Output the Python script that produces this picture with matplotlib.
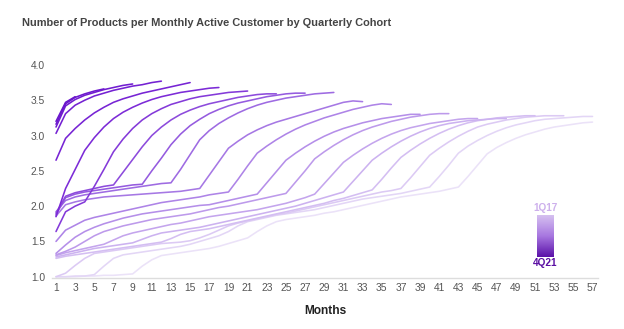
import numpy as np
import matplotlib
matplotlib.use('Agg')
import matplotlib.pyplot as plt
from matplotlib.colors import LinearSegmentedColormap

plt.rcParams['font.family'] = ['Liberation Sans', 'DejaVu Sans']

# products per monthly active customer, one list per quarterly cohort (month 1, 2, ...)
cohort_labels = ['1Q17', '2Q17', '3Q17', '4Q17', '1Q18', '2Q18', '3Q18', '4Q18', '1Q19', '2Q19',
                 '3Q19', '4Q19', '1Q20', '2Q20', '3Q20', '4Q20', '1Q21', '2Q21', '3Q21', '4Q21']

c_1q17 = [1.00, 1.00, 1.00, 1.01, 1.01, 1.02, 1.02, 1.03, 1.04,
          1.15, 1.24, 1.30,
          1.32, 1.34, 1.36, 1.38, 1.40, 1.43, 1.47, 1.51, 1.55,
          1.64, 1.72, 1.78,
          1.81, 1.83, 1.85, 1.87, 1.90, 1.92,
          1.95, 1.98, 2.01, 2.04, 2.07, 2.10, 2.13,
          2.15, 2.17, 2.19, 2.21, 2.24, 2.27,
          2.42, 2.58, 2.74,
          2.83, 2.90, 2.96, 3.01, 3.05, 3.09, 3.12, 3.14, 3.16, 3.18, 3.19]
c_2q17 = [1.00, 1.00, 1.01, 1.01, 1.03, 1.15, 1.26, 1.31,
          1.33, 1.35, 1.37, 1.39, 1.41, 1.43, 1.46, 1.50, 1.54,
          1.58, 1.64, 1.72, 1.78,
          1.81, 1.84, 1.87, 1.89, 1.91, 1.93, 1.95, 1.98, 2.01,
          2.04, 2.07, 2.10, 2.12, 2.14, 2.16, 2.18, 2.21, 2.24, 2.27,
          2.42, 2.58, 2.75,
          2.85, 2.93, 3.00, 3.06, 3.11, 3.15, 3.18, 3.21, 3.23, 3.24, 3.25, 3.26, 3.27, 3.27]
c_3q17 = [1.00, 1.05, 1.16, 1.26, 1.33,
          1.35, 1.37, 1.39, 1.41, 1.43, 1.45, 1.47, 1.48, 1.49, 1.51,
          1.55, 1.60, 1.66, 1.72, 1.76,
          1.79, 1.82, 1.85, 1.88, 1.90,
          1.93, 1.96, 1.99, 2.02, 2.05,
          2.08, 2.11, 2.14, 2.17, 2.20, 2.22, 2.25,
          2.40, 2.56, 2.72,
          2.82, 2.91, 2.99, 3.06, 3.12, 3.16, 3.19, 3.22, 3.24, 3.26, 3.27, 3.28, 3.28, 3.28]
c_4q17 = [1.26, 1.29, 1.31, 1.33, 1.35, 1.37, 1.39, 1.41, 1.43, 1.45, 1.47, 1.49,
          1.54, 1.60, 1.64, 1.66, 1.68,
          1.71, 1.74, 1.77, 1.80, 1.83, 1.86, 1.89, 1.92, 1.95, 1.98, 2.01, 2.04, 2.08, 2.11, 2.15, 2.19, 2.23,
          2.38, 2.54, 2.69,
          2.79, 2.88, 2.96, 3.03, 3.09, 3.14, 3.18, 3.21, 3.23, 3.25, 3.26, 3.27, 3.28, 3.28]
c_1q18 = [1.28, 1.31, 1.34, 1.37, 1.40, 1.42, 1.44, 1.46, 1.48,
          1.53, 1.58, 1.62, 1.64, 1.66, 1.68, 1.70, 1.73,
          1.76, 1.79, 1.82, 1.85, 1.88, 1.91, 1.94, 1.97, 2.00, 2.04, 2.08, 2.12, 2.16, 2.20,
          2.35, 2.50, 2.65,
          2.75, 2.84, 2.92, 2.99, 3.05, 3.10, 3.14, 3.17, 3.19, 3.21, 3.22, 3.23, 3.24, 3.24]
c_2q18 = [1.30, 1.34, 1.37, 1.40, 1.43, 1.46, 1.52, 1.58, 1.62,
          1.65, 1.68, 1.71, 1.74, 1.76, 1.79, 1.82, 1.85,
          1.87, 1.89, 1.91, 1.93, 1.95, 1.98, 2.01, 2.04, 2.08, 2.12, 2.17,
          2.32, 2.47, 2.62,
          2.72, 2.81, 2.89, 2.96, 3.02, 3.07, 3.11, 3.14, 3.17, 3.19, 3.21, 3.23, 3.24, 3.24]
c_3q18 = [1.31, 1.36, 1.42, 1.50, 1.58, 1.64,
          1.68, 1.72, 1.75, 1.78, 1.81, 1.83, 1.85, 1.87, 1.89, 1.92, 1.95,
          1.98, 2.00, 2.03, 2.06, 2.09, 2.12, 2.15, 2.18,
          2.34, 2.50, 2.67,
          2.77, 2.86, 2.94, 3.01, 3.07, 3.12, 3.16, 3.20, 3.23, 3.26, 3.28, 3.30, 3.31, 3.31]
c_4q18 = [1.33, 1.45, 1.56, 1.64, 1.70, 1.75, 1.79, 1.83, 1.86, 1.89, 1.91, 1.93, 1.95, 1.97, 1.99, 2.01, 2.02,
          2.05, 2.08, 2.11, 2.14, 2.17,
          2.33, 2.49, 2.65,
          2.75, 2.84, 2.92, 2.99, 3.05, 3.10, 3.14, 3.18, 3.21, 3.24, 3.26, 3.28, 3.30, 3.30]
c_1q19 = [1.50, 1.66, 1.73, 1.80, 1.84, 1.87, 1.90, 1.93, 1.96, 1.99, 2.02, 2.05, 2.07, 2.09, 2.11, 2.13,
          2.16, 2.18, 2.20,
          2.38, 2.57, 2.75,
          2.85, 2.94, 3.02, 3.09, 3.15, 3.20, 3.25, 3.29, 3.33, 3.37, 3.40, 3.43, 3.45, 3.44]
c_2q19 = [1.86, 2.02, 2.06, 2.09, 2.11, 2.13, 2.14, 2.15, 2.16, 2.17, 2.18, 2.19, 2.20, 2.21, 2.23, 2.25,
          2.44, 2.63, 2.82,
          2.92, 3.01, 3.08, 3.14, 3.19, 3.23, 3.27, 3.31, 3.35, 3.39, 3.43, 3.47, 3.49, 3.48]
c_3q19 = [1.92, 2.08, 2.13, 2.16, 2.18, 2.20, 2.22, 2.24, 2.26, 2.28, 2.30, 2.32, 2.33,
          2.52, 2.73, 2.94,
          3.07, 3.17, 3.25, 3.32, 3.38, 3.43, 3.47, 3.50, 3.53, 3.55, 3.57, 3.59, 3.60, 3.61]
c_4q19 = [1.88, 2.12, 2.17, 2.20, 2.22, 2.24, 2.26, 2.28, 2.30, 2.31,
          2.50, 2.68, 2.87,
          3.02, 3.14, 3.23, 3.31, 3.37, 3.42, 3.46, 3.49, 3.52, 3.55, 3.57, 3.59, 3.60, 3.60]
c_1q20 = [1.90, 2.14, 2.19, 2.22, 2.25, 2.28, 2.30,
          2.48, 2.66, 2.84,
          3.00, 3.12, 3.22, 3.30, 3.36, 3.41, 3.45, 3.48, 3.51, 3.54, 3.56, 3.58, 3.59, 3.59]
c_2q20 = [1.64, 1.92, 2.00, 2.06,
          2.28, 2.52, 2.77,
          2.95, 3.10, 3.22, 3.31, 3.38, 3.44, 3.48, 3.52, 3.55, 3.57, 3.59, 3.61, 3.62, 3.63]
c_3q20 = [1.85, 2.25, 2.52, 2.79,
          2.97, 3.12, 3.24, 3.33, 3.40, 3.46, 3.51, 3.55, 3.58, 3.61, 3.63, 3.65, 3.67, 3.68]
c_4q20 = [2.65, 2.96, 3.10, 3.22, 3.32, 3.40, 3.47, 3.52, 3.56, 3.60, 3.63, 3.66, 3.69, 3.72, 3.75]
c_1q21 = [3.03, 3.31, 3.43, 3.50, 3.56, 3.60, 3.64, 3.67, 3.70, 3.72, 3.75, 3.77]
c_2q21 = [3.12, 3.42, 3.51, 3.57, 3.61, 3.65, 3.68, 3.71, 3.73]
c_3q21 = [3.16, 3.45, 3.54, 3.59, 3.63, 3.66]
c_4q21 = [3.20, 3.47, 3.55]

cohorts = [c_1q17, c_2q17, c_3q17, c_4q17, c_1q18, c_2q18, c_3q18, c_4q18, c_1q19, c_2q19,
           c_3q19, c_4q19, c_1q20, c_2q20, c_3q20, c_4q20, c_1q21, c_2q21, c_3q21, c_4q21]

x_ticks = list(range(1, 58, 2))
y_ticks = [1.0, 1.5, 2.0, 2.5, 3.0, 3.5, 4.0]

# oldest cohort palest, newest cohort deepest purple
line_cmap = LinearSegmentedColormap.from_list('cohort', ['#ebe2f8', '#c6a8ee', '#a273e3', '#7a27d6', '#6a16cc'])
bar_cmap = LinearSegmentedColormap.from_list('cohort_bar', ['#d6c1f0', '#a777e0', '#5a10a8'])
colors = line_cmap(np.linspace(0, 1, len(cohorts)))

fig = plt.figure(figsize=(6.24, 3.29), dpi=100)
ax = fig.add_axes([0.0833, 0.1565, 0.8747, 0.661])

for vals, col in zip(cohorts, colors):
    months = np.arange(1, len(vals) + 1)
    ax.plot(months, vals, color=col, linewidth=1.15, solid_joinstyle='round', solid_capstyle='round')

ax.set_xlim(0.58, 57.55)
ax.set_ylim(0.989, 4.069)
ax.set_xticks(x_ticks)
ax.set_xticklabels([str(t) for t in x_ticks])
ax.set_yticks(y_ticks)
ax.set_yticklabels([f'{t:.1f}' for t in y_ticks])
ax.tick_params(length=0, labelsize=7.4, labelcolor='#555555')
ax.tick_params(axis='x', pad=4)
ax.tick_params(axis='y', pad=5)
for side in ['top', 'right', 'left']:
    ax.spines[side].set_visible(False)
ax.spines['bottom'].set_color('#dddddd')
ax.spines['bottom'].set_linewidth(1.0)

fig.text(22 / 624, 1 - 23 / 329, 'Number of Products per Monthly Active Customer by Quarterly Cohort',
         fontsize=7.95, fontweight='bold', color='#444444', va='center', ha='left')
fig.text(325 / 624, 1 - 311 / 329, 'Months', fontsize=8.6, fontweight='bold', color='#222222',
         va='center', ha='center')

# cohort gradient key
cax = fig.add_axes([537 / 624, (329 - 256.7) / 329, 17 / 624, 41.7 / 329])
gradient = np.linspace(0, 1, 256).reshape(-1, 1)
cax.imshow(gradient, aspect='auto', cmap=bar_cmap, origin='upper')
cax.axis('off')
fig.text(545.5 / 624, 1 - 208 / 329, cohort_labels[0], fontsize=7.2, fontweight='bold', color='#cdb0ec',
         ha='center', va='center')
fig.text(545.5 / 624, 1 - 263 / 329, cohort_labels[-1], fontsize=7.2, fontweight='bold', color='#5a0fa3',
         ha='center', va='center')

fig.savefig('out.png', dpi=100)
